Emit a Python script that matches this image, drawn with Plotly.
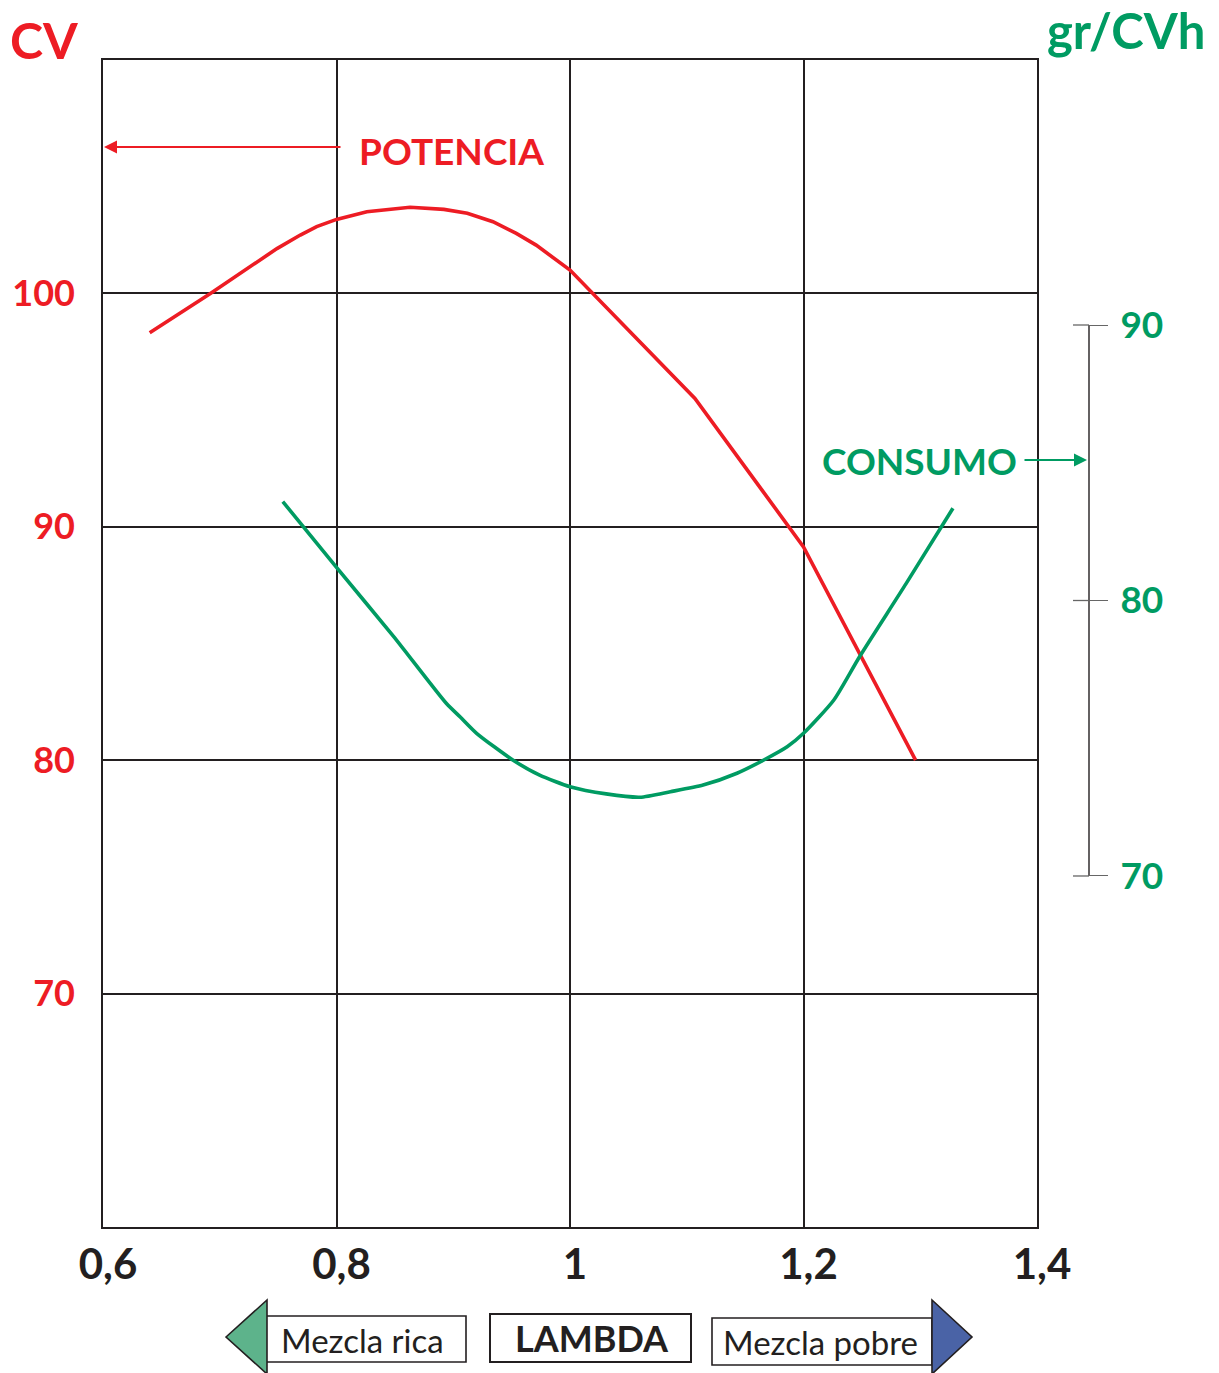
import plotly.graph_objects as go

# ---------------- data ----------------
lambda_potencia = [0.640, 0.692, 0.749, 0.769, 0.783, 0.800, 0.826, 0.863, 0.892, 0.912, 0.934,
                   0.954, 0.971, 0.983, 1.000, 1.107, 1.200, 1.296]
potencia_cv = [98.31, 100.0, 101.92, 102.5, 102.86, 103.17, 103.5, 103.69, 103.6, 103.43, 103.07,
               102.57, 102.07, 101.64, 101.0, 95.5, 89.14, 80.0]

lambda_consumo = [0.754, 0.800, 0.849, 0.894, 0.906, 0.920, 0.951, 0.974, 1.000, 1.031, 1.060,
                  1.086, 1.114, 1.143, 1.166, 1.186, 1.200, 1.226, 1.248, 1.288, 1.328]
consumo_grcvh = [83.59, 81.2, 78.69, 76.27, 75.77, 75.18, 74.21, 73.66, 73.24, 72.98, 72.86,
                 73.06, 73.30, 73.73, 74.21, 74.69, 75.18, 76.39, 77.96, 80.62, 83.35]

x_tickvals = [0.6, 0.8, 1.0, 1.2, 1.4]
x_ticktext = ["0,6", "0,8", "1", "1,2", "1,4"]
cv_tickvals = [70, 80, 90, 100]
consumo_tickvals = [70, 80, 90]

# ---------------- style ----------------
RED = "#ED1C24"
GREEN = "#009B62"
BLACK = "#231F20"
FONT = "Lato, sans-serif"

W, H = 1219, 1373
ML, MR, MT, MB = 103, 10, 60, 146
PW = W - ML - MR
PH = H - MT - MB


def px(xp):
    return (xp - ML) / PW


def py(yp):
    return (H - MB - yp) / PH


fig = go.Figure()
fig.add_trace(go.Scatter(x=lambda_potencia, y=potencia_cv, mode="lines",
                         line=dict(color=RED, width=3.6, shape="linear"),
                         name="POTENCIA", yaxis="y"))
fig.add_trace(go.Scatter(x=lambda_consumo, y=consumo_grcvh, mode="lines",
                         line=dict(color=GREEN, width=3.6, shape="spline", smoothing=0.6),
                         name="CONSUMO", yaxis="y2"))

x_dom_end = px(1037)
y2_pos = px(1089)

fig.update_layout(
    width=W, height=H,
    margin=dict(l=ML, r=MR, t=MT, b=MB, autoexpand=False),
    paper_bgcolor="white", plot_bgcolor="white",
    showlegend=False,
    font=dict(family=FONT),
    xaxis=dict(domain=[0, x_dom_end], range=[0.6, 1.4], tickvals=x_tickvals, ticktext=x_ticktext,
               showgrid=True, gridcolor=BLACK, gridwidth=1.5, zeroline=False, automargin=False,
               showline=True, linecolor=BLACK, linewidth=1.6, mirror=True, ticks="",
               tickfont=dict(family=FONT, size=42, color=BLACK, weight="bold"),
               ticklabelstandoff=0, ticklabelshift=5),
    yaxis=dict(range=[60, 110], tickvals=cv_tickvals, showgrid=True, gridcolor=BLACK, gridwidth=1.5,
               zeroline=False, showline=True, linecolor=BLACK, linewidth=1.6, mirror=True, ticks="",
               automargin=False,
               tickfont=dict(family=FONT, size=36, color=RED, weight="bold"),
               ticklabelstandoff=19),
    yaxis2=dict(range=[57.259, 99.619], overlaying="y", anchor="free", position=y2_pos, side="right",
                tickvals=consumo_tickvals, showgrid=False, zeroline=False, showline=False,
                automargin=False,
                ticks="outside", ticklen=18, tickwidth=1.3, tickcolor="#666",
                tickfont=dict(family=FONT, size=37, color=GREEN, weight="bold"),
                ticklabelstandoff=5),
)

shapes = []
# right axis spine (70..90) and left stubs of ticks
shapes.append(dict(type="line", xref="paper", yref="y2", x0=y2_pos, x1=y2_pos,
                   y0=min(consumo_tickvals), y1=max(consumo_tickvals), line=dict(color=BLACK, width=1.4)))
for v in consumo_tickvals:
    shapes.append(dict(type="line", xref="paper", yref="y2", x0=px(1073), x1=y2_pos, y0=v, y1=v,
                       line=dict(color="#666", width=1.3)))


def rect(x0, y0, x1, y1, lw=1.6):
    return dict(type="rect", xref="paper", yref="paper", x0=px(x0), x1=px(x1), y0=py(y1), y1=py(y0),
                line=dict(color=BLACK, width=lw), fillcolor="white", layer="above")


def tri(pts, fill):
    path = "M " + " L ".join(f"{px(a)},{py(b)}" for a, b in pts) + " Z"
    return dict(type="path", xref="paper", yref="paper", path=path, fillcolor=fill,
                line=dict(color=BLACK, width=1.6), layer="above")


shapes.append(rect(266, 1316, 466, 1362))
shapes.append(tri([(226, 1337), (267, 1300), (267, 1374)], "#5DB38B"))
shapes.append(rect(490, 1314, 691, 1362, lw=2))
shapes.append(rect(712, 1318, 932, 1365))
shapes.append(tri([(932, 1300), (972, 1337), (932, 1374)], "#4A63A6"))

annotations = [
    dict(text="<b>CV</b>", xref="paper", yref="paper", x=px(8), y=py(40), xanchor="left", yanchor="middle",
         showarrow=False, font=dict(family=FONT, size=50, color=RED)),
    dict(text="<b>gr/CVh</b>", xref="paper", yref="paper", x=px(1207), y=py(30), xanchor="right",
         yanchor="middle", showarrow=False, font=dict(family=FONT, size=49, color=GREEN)),
    dict(text="<b>POTENCIA</b>", xref="paper", yref="paper", x=px(357), y=py(150), xanchor="left",
         yanchor="middle", showarrow=False, font=dict(family=FONT, size=37, color=RED)),
    dict(text="", xref="paper", yref="paper", x=px(104), y=py(147), axref="pixel", ayref="pixel",
         ax=238, ay=0, showarrow=True, arrowhead=2, arrowsize=1.3, arrowwidth=2, arrowcolor=RED),
    dict(text="<b>CONSUMO</b>", xref="paper", yref="paper", x=px(1019), y=py(460), xanchor="right",
         yanchor="middle", showarrow=False, font=dict(family=FONT, size=37, color=GREEN)),
    dict(text="", xref="paper", yref="paper", x=px(1087), y=py(460), axref="pixel", ayref="pixel",
         ax=-64, ay=0, showarrow=True, arrowhead=2, arrowsize=1.3, arrowwidth=2, arrowcolor=GREEN),
    dict(text="Mezcla rica", xref="paper", yref="paper", x=px(362), y=py(1340), xanchor="center",
         yanchor="middle", showarrow=False, font=dict(family=FONT, size=33, color=BLACK)),
    dict(text="<b>LAMBDA</b>", xref="paper", yref="paper", x=px(592), y=py(1338), xanchor="center",
         yanchor="middle", showarrow=False, font=dict(family=FONT, size=36, color=BLACK)),
    dict(text="Mezcla pobre", xref="paper", yref="paper", x=px(820), y=py(1342), xanchor="center",
         yanchor="middle", showarrow=False, font=dict(family=FONT, size=33, color=BLACK)),
]

fig.update_layout(shapes=shapes, annotations=annotations)
fig.write_html("out.html", config={"displayModeBar": False},
               post_script="document.body.style.margin='0';document.body.style.overflow='hidden';")
